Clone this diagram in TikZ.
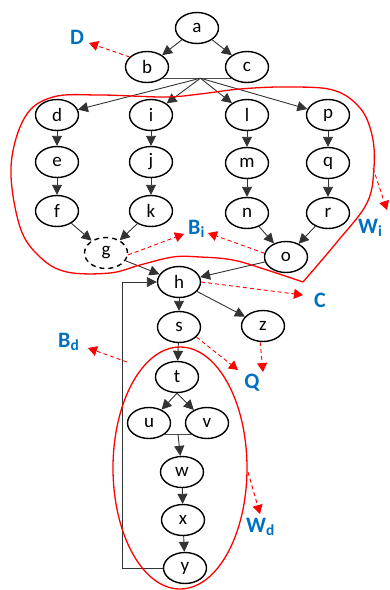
\documentclass[tikz,border=0pt]{standalone}
\usepackage{fontspec}
\setmainfont{Carlito}
\usetikzlibrary{shapes.geometric,arrows.meta,calc}
\definecolor{lblue}{RGB}{0,112,192}
\begin{document}
\begin{tikzpicture}[x=1pt,y=-1pt,
  vtx/.style={ellipse,draw,line width=1.4pt,minimum width=43pt,minimum height=31pt,inner sep=0pt,font=\fontsize{19}{19}\selectfont},
  arc/.style={draw=black!80,line width=0.9pt,-{Triangle[length=10pt,width=10pt]}},
  joinline/.style={draw=black!70,line width=1pt},
  ann/.style={red,line width=0.9pt,dash pattern=on 4pt off 3pt,-{Triangle[length=9pt,width=10pt]}},
  lbl/.style={text=lblue,font=\bfseries\fontsize{22}{22}\selectfont,inner sep=1pt},
  region/.style={red,line width=1.3pt}
]
\useasboundingbox (0,0) rectangle (390,590);

% vertices
\node[vtx] (a) at (197,28) {a};
\node[vtx] (b) at (147,67) {b};
\node[vtx] (c) at (247,67) {c};
\node[vtx] (d) at (57,115) {d};
\node[vtx] (i) at (151,115) {i};
\node[vtx] (l) at (247,115) {l};
\node[vtx] (p) at (328,115) {p};
\node[vtx] (e) at (57,162) {e};
\node[vtx] (j) at (151,162) {j};
\node[vtx] (m) at (247,163) {m};
\node[vtx] (q) at (328,163) {q};
\node[vtx] (f) at (57,211) {f};
\node[vtx] (k) at (151,211) {k};
\node[vtx] (n) at (247,213) {n};
\node[vtx] (r) at (328,213) {r};
\node[vtx,dashed,dash pattern=on 5pt off 4pt] (g) at (106,253) {g};
\node[vtx] (o) at (286,257) {o};
\node[vtx] (h) at (179,282) {h};
\node[vtx] (s) at (179,327) {s};
\node[vtx] (z) at (263,326) {z};
\node[vtx] (t) at (177,377) {t};
\node[vtx] (u) at (149,423) {u};
\node[vtx] (v) at (207,423) {v};
\node[vtx] (w) at (182,472) {w};
\node[vtx] (x) at (183,520) {x};
\node[vtx] (y) at (185,568) {y};

% edges
\draw[arc] (a) -- (b);
\draw[arc] (a) -- (c);
\draw[joinline] (b.-35) -- (c.-145);
\coordinate (bc) at ($(b.-35)!0.55!(c.-145)$);
\foreach \tgt in {d,i,l,p} \draw[arc] (bc) -- (\tgt);
\draw[arc] (d) -- (e);
\draw[arc] (e) -- (f);
\draw[arc] (i) -- (j);
\draw[arc] (j) -- (k);
\draw[arc] (l) -- (m);
\draw[arc] (m) -- (n);
\draw[arc] (p) -- (q);
\draw[arc] (q) -- (r);
\draw[arc] (f) -- (g);
\draw[arc] (k) -- (g);
\draw[arc] (n) -- (o);
\draw[arc] (r) -- (o);
\draw[arc] (g) -- (h);
\draw[arc] (o) -- (h);
\draw[arc] (h) -- (s);
\draw[arc] (h) -- (z);
\draw[arc] (s) -- (t);
\draw[arc] (t.south) -- (u);
\draw[arc] (t.south) -- (v);
\draw[joinline] (u.-35) -- (v.-145);
\coordinate (uv) at ($(u.-35)!0.5!(v.-145)$);
\draw[arc] (uv) -- (w);
\draw[arc] (w) -- (x);
\draw[arc] (x) -- (y);
\draw[arc] (y.west) -- ++(-40,0) |- (h.west);

% regions
\draw[region] plot[smooth,tension=0.6] coordinates {
  (303,282) (267,270) (233,260) (200,257) (173,257) (140,265) (110,273)
  (67,272) (40,257) (20,227) (11,167) (25,117) (53,97) (100,95) (165,97)
  (200,94) (240,89) (285,87) (333,90) (360,108) (372,135) (374,167)
  (367,203) (337,242) (303,282)};
\draw[region] (180,468) ellipse [x radius=67, y radius=121];

% labels
\node[lbl] (D) at (77,37) {D};
\node[lbl,anchor=west] (Bi) at (187,229) {B\textsubscript{i}};
\node[lbl,anchor=west] (Wi) at (357,228) {W\textsubscript{i}};
\node[lbl] (C) at (320,300) {C};
\node[lbl] (Q) at (252,383) {Q};
\node[lbl,anchor=west] (Bd) at (57,342) {B\textsubscript{d}};
\node[lbl,anchor=west] (Wd) at (245,527) {W\textsubscript{d}};

% annotation arrows
\coordinate (tD) at (89,43);
\coordinate (tBi1) at (184,234);
\coordinate (tBi2) at (208,233);
\coordinate (sWi) at (373,168);
\coordinate (tWi) at (387,210);
\coordinate (tC) at (303,295);
\coordinate (tQ1) at (238,370);
\coordinate (tQ2) at (263,372);
\coordinate (sBd) at (127,362);
\coordinate (tBd) at (88,348);
\coordinate (sWd) at (248,472);
\coordinate (tWd) at (260,514);

\draw[ann] (b.150) -- (tD);
\draw[ann] (g.-5) -- (tBi1);
\draw[ann] (o.170) -- (tBi2);
\draw[ann] (sWi) -- (tWi);
\draw[ann] (h.east) -- (tC);
\draw[ann] (s.-30) -- (tQ1);
\draw[ann] (z.-100) -- (tQ2);
\draw[ann] (sBd) -- (tBd);
\draw[ann] (sWd) -- (tWd);
\end{tikzpicture}
\end{document}
